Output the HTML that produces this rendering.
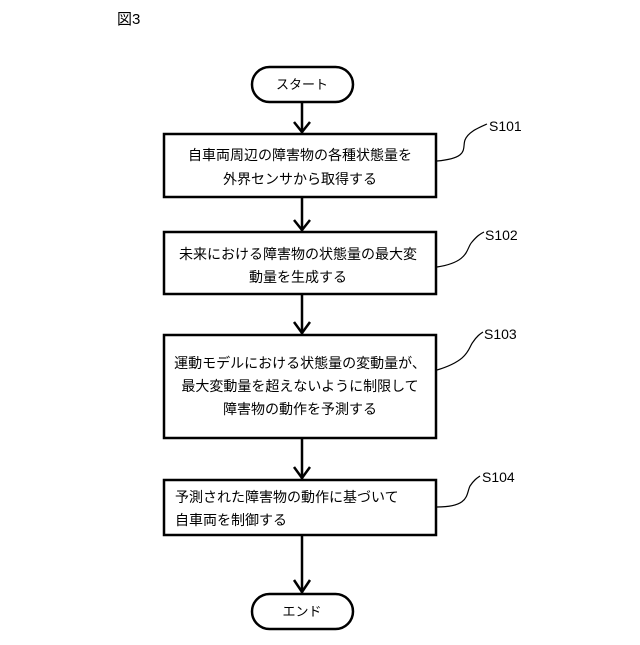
<!DOCTYPE html>
<html><head><meta charset="utf-8"><style>
html,body{margin:0;padding:0;background:#fff;}
svg text{font-family:"Liberation Sans","Noto Sans CJK JP",sans-serif;fill:#000;}
</style></head><body>
<svg width="640" height="640" viewBox="0 0 640 640" xmlns="http://www.w3.org/2000/svg">
<text x="117" y="24" font-size="15">図3</text>
<g fill="none" stroke="#000" stroke-width="2.5">
<rect x="252" y="67" width="101" height="35" rx="17.5"/>
<rect x="164" y="134" width="272" height="63"/>
<rect x="164" y="232" width="272" height="62"/>
<rect x="164" y="335" width="272" height="103"/>
<rect x="164" y="480" width="272" height="55"/>
<rect x="252" y="594" width="101" height="35" rx="17.5"/>
<path d="M302 102V133M302 197V231M302 294V334M302 438V479M302 535V593"/>
<path d="M294 122L302 132L310 122M294 220L302 230L310 220M294 322L302 333L310 322M294 467L302 478L310 467M294 580L302 592L310 580"/>
</g>
<g fill="none" stroke="#000" stroke-width="1.2">
<path d="M437 161C470 158 462 148 465 140C468 132 478 128 487 124"/>
<path d="M437 267C470 262 466 248 472 242C477 236 480 234 484 232"/>
<path d="M437 370C470 360 468 348 473 342C477 336 480 334 483 332"/>
<path d="M437 507C470 507 466 494 470 486C474 480 477 478 480 476"/>
</g>
<g font-size="14">
<text x="489" y="131">S101</text>
<text x="485" y="240">S102</text>
<text x="484" y="339">S103</text>
<text x="482" y="482">S104</text>
<text x="302" y="89" text-anchor="middle" font-size="13">スタート</text>
<text x="302" y="616" text-anchor="middle" font-size="13">エンド</text>
<text x="300" y="160" text-anchor="middle">自車両周辺の障害物の各種状態量を</text>
<text x="300" y="184" text-anchor="middle">外界センサから取得する</text>
<text x="298" y="259" text-anchor="middle">未来における障害物の状態量の最大変</text>
<text x="298" y="282" text-anchor="middle">動量を生成する</text>
<text x="300" y="368" text-anchor="middle">運動モデルにおける状態量の変動量が、</text>
<text x="300" y="391" text-anchor="middle">最大変動量を超えないように制限して</text>
<text x="300" y="414" text-anchor="middle">障害物の動作を予測する</text>
<text x="175" y="502">予測された障害物の動作に基づいて</text>
<text x="175" y="525">自車両を制御する</text>
</g>
</svg>
</body></html>
